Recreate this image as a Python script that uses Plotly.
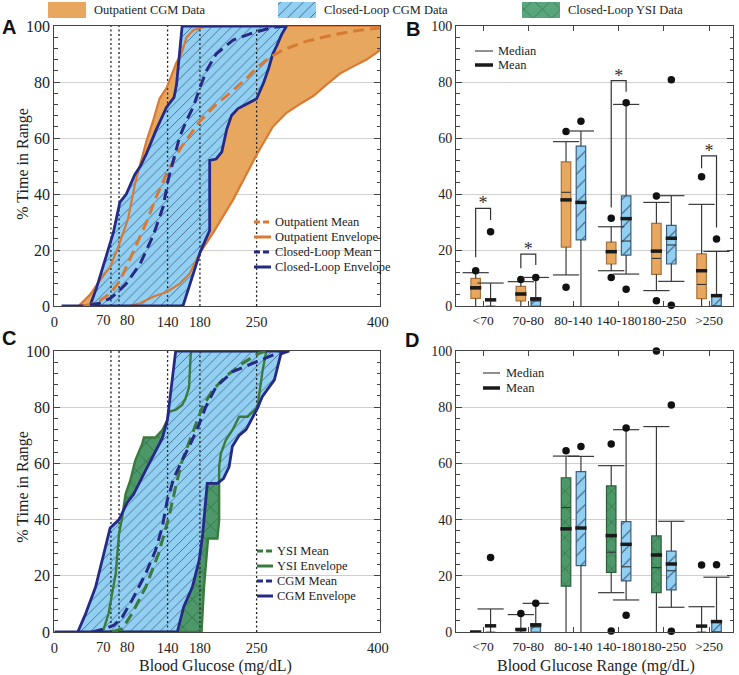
import plotly.graph_objects as go

# ---------------- Panel A : cumulative distributions ----------------
op_env_left_x = [30, 44, 56, 69, 79, 91, 100, 106.5, 114, 122, 130, 139, 151, 157, 163.5, 172, 188, 213]
op_env_left_y = [0, 4, 9, 14, 21, 31, 44, 51, 59, 66, 74, 78, 87, 90, 96, 98.6, 99.8, 100]
op_env_right_x = [93, 106, 122, 139, 155, 167.5, 180, 196, 221, 250, 258, 270, 287, 303, 320, 336, 353, 369, 386, 400, 420, 440]
op_env_right_y = [0, 1, 3.3, 5, 8, 11.7, 19, 26, 38, 54, 58, 64, 69, 72, 75, 79, 83, 85.5, 88, 91, 95, 100]
op_mean_x = [36, 52, 69, 81, 97, 114, 126, 140, 155, 172, 180, 200, 221, 240, 250, 265, 283, 311, 344, 377, 402]
op_mean_y = [0, 1, 4.5, 9, 19, 30, 39, 48, 56, 63, 66, 72, 77, 82, 85, 88.5, 91.5, 94.5, 96.8, 98.5, 99.3]

cl_env_left_x = [9, 44, 52, 58, 64.6, 72.8, 81, 89, 99.6, 106.5, 114, 126, 138.7, 148, 151, 158]
cl_env_left_y = [0, 0, 6.3, 12, 19, 26, 37, 40, 47, 50, 54.5, 63, 71, 74.5, 79, 100]
cl_env_right_x = [159, 172, 180, 192, 192, 200, 207, 213, 219, 227, 236, 250, 259, 265, 270, 275, 281, 287]
cl_env_right_y = [0, 12, 19, 27, 52, 52.5, 55, 63, 68, 70.5, 72, 74, 80, 85, 90, 93, 97, 100]
cl_mean_x = [44, 56, 69, 77, 89, 106, 122, 134.6, 140.7, 147, 155, 163, 171.6, 180, 188, 200, 221, 245.7, 270, 287]
cl_mean_y = [0.4, 1, 2.7, 4.5, 8, 15, 25, 35.5, 45, 52, 60.5, 66, 71, 78, 84, 90, 95, 97.6, 99.5, 100]

# ---------------- Panel C : YSI vs CGM (closed loop) ----------------
cgm_env_left_x = [0, 29, 38, 51, 69, 80, 90, 98, 113, 133.5, 139.7, 150, 150]
cgm_env_left_y = [0, 0, 6, 16, 37, 40, 46, 49, 57.6, 69, 75.4, 99, 100]
cgm_env_right_x = [152, 160, 170.6, 179, 183, 189, 201.6, 209, 216, 220, 228.5, 237, 251, 257, 263, 272, 280, 290.5]
cgm_env_right_y = [0, 9, 16, 25.5, 33.8, 52.9, 52.9, 54.6, 58.8, 66, 70, 72, 79.6, 83.7, 86, 89.7, 99, 100]
ysi_env_left_x = [55, 61, 67, 73.6, 76, 80, 84, 88, 94, 100, 108.7, 110.7, 125, 133.5, 139.7, 141.6, 150, 158, 162, 166.5, 168.6, 169.8]
ysi_env_left_y = [0, 1, 6.5, 17, 21, 35, 41, 49, 54, 61, 67, 69.2, 69.2, 71.9, 75.4, 78.4, 79, 80.8, 83, 87, 99, 100]
ysi_env_right_x = [182, 185, 190, 201.6, 203.7, 203.7, 205.8, 212, 220, 228.5, 238.8, 251, 257.4, 262]
ysi_env_right_y = [0, 16, 33.3, 33.3, 39.8, 58.8, 63.5, 68.3, 71.8, 76.6, 76.6, 80, 93, 100]
ysi_mean_x = [71.5, 84, 96, 113, 129, 141.7, 150, 158, 170.7, 183, 195.5, 212, 232.6, 253, 262]
ysi_mean_y = [0, 1.2, 6.5, 16, 28, 41, 51.7, 61, 70.7, 80, 86, 91, 95.6, 99.2, 100]
cgm_mean_x = [46.7, 63, 73.6, 84, 96, 113, 125, 133.5, 139.7, 148, 158, 170, 179, 187, 200, 220, 245, 261.6, 274, 278]
cgm_mean_y = [0, 1.2, 2.4, 5.3, 11.3, 20.8, 29, 37.4, 47, 55, 61, 68, 74, 80, 87.3, 92.6, 95.6, 97.7, 99, 100]

range_cutoffs = [70, 80, 140, 180, 250]
glucose_ticks = [0, 140, 180, 250, 400]          # labelled by the axis
glucose_close_ticks = [70, 80]                    # labelled beside each other (too close for the axis)

# ---------------- Panels B / D : box plots per glucose range ----------------
categories = ["<70", "70-80", "80-140", "140-180", "180-250", ">250"]

op_q1 = [2.7, 1.8, 21.0, 15.0, 11.3, 2.6]
op_q3 = [9.9, 7.0, 51.5, 22.8, 29.5, 18.6]
op_median = [6.2, 4.0, 40.6, 19.2, 17.0, 7.7]
op_mean = [6.5, 4.3, 37.9, 19.4, 19.6, 12.6]
op_cap_lo = [0, 0, 11.1, 12.6, 5.5, 0]
op_cap_hi = [11.9, 8.7, 58.7, 28.3, 37.0, 36.3]
op_out_cat = [0, 1, 2, 2, 3, 3, 4, 4, 5]
op_out_val = [12.6, 9.5, 62.3, 6.7, 31.3, 10.2, 39.3, 1.9, 46.2]

cl_q1 = [0, 0, 23.6, 18.2, 15.0, 0]
cl_q3 = [0, 3.0, 57.1, 39.3, 28.8, 3.7]
cl_median = [0, 1.8, 37.0, 23.2, 21.8, 0]
cl_mean = [2.2, 2.5, 37.0, 31.2, 24.2, 3.7]
cl_cap_lo = [0, 0, 0, 11.4, 8.8, 0]
cl_cap_hi = [8.2, 10.2, 62.5, 72.0, 39.4, 19.5]
cl_out_cat = [0, 1, 2, 3, 3, 4, 4, 5]
cl_out_val = [26.5, 10.2, 66.0, 72.6, 6.0, 80.8, 0.3, 23.9]

ysi_q1 = [0, 0, 16.3, 21.2, 14.0, 0]
ysi_q3 = [0, 0, 54.9, 52.0, 34.2, 0]
ysi_median = [0, 0, 44.3, 28.4, 22.9, 0]
ysi_mean = [0, 0.9, 36.7, 34.3, 27.4, 2.1]
ysi_cap_lo = [0, 0, 0, 14.0, 0, 0]
ysi_cap_hi = [0, 6.2, 62.6, 59.2, 73.1, 9.0]
ysi_out_cat = [1, 2, 3, 3, 4, 5]
ysi_out_val = [6.6, 64.5, 66.9, 0.4, 100, 23.8]

bracket_cat = [0, 1, 3, 5]
bracket_left_lo = [17.4, 13.5, 35.2, 49.2]
bracket_top = [34.9, 18.5, 80.5, 53.6]
bracket_right_lo = [30.7, 14.6, 76.5, 28.0]

# ---------------- styling ----------------
SERIF = "Liberation Serif"
ORANGE_FILL = "#E8A75E"
ORANGE_LINE = "#D87A33"
NAVY = "#262A86"
BLUE_FILL = "#92D0F3"
HATCH = "#36506E"
GREEN_FILL = "#4C9868"
GREEN_HATCH = "#28573A"
GREEN_LINE = "#3A7A3C"
AXIS = "#444444"
GRID = "#CFCFCF"
TXT = "#222222"

W, H = 739, 675
def px_x(p): return p / W
def px_y(p): return 1 - p / H

fig = go.Figure()

def polygon(lx, ly, rx, ry):
    xs = list(lx) + list(rx)[::-1] + [lx[0]]
    ys = list(ly) + list(ry)[::-1] + [ly[0]]
    return xs, ys

def add_fill(xs, ys, color, ax, ay, pattern=None):
    kw = dict(x=xs, y=ys, mode="lines", fill="toself", fillcolor=color,
              line=dict(width=0), hoverinfo="skip", showlegend=False, xaxis=ax, yaxis=ay)
    if pattern:
        kw["fillpattern"] = pattern
    fig.add_trace(go.Scatter(**kw))

def add_line(xs, ys, color, width, ax, ay, dash=None):
    fig.add_trace(go.Scatter(x=xs, y=ys, mode="lines", line=dict(color=color, width=width, dash=dash),
                             showlegend=False, hoverinfo="skip", xaxis=ax, yaxis=ay))

def add_cutoffs(ax, ay):
    xs, ys = [], []
    for v in range_cutoffs:
        xs += [v, v, None]; ys += [0, 100, None]
    fig.add_trace(go.Scatter(x=xs, y=ys, mode="lines", line=dict(color="#222", width=1.3, dash="2px,2.5px"),
                             showlegend=False, hoverinfo="skip", xaxis=ax, yaxis=ay))

blue_pat = dict(shape="/", size=7, solidity=0.1, fgcolor=HATCH, bgcolor=BLUE_FILL, fillmode="replace")
green_pat = dict(shape="x", size=13, solidity=0.08, fgcolor=GREEN_HATCH, bgcolor=GREEN_FILL, fillmode="replace")
DASH = "11px,6px"

# ---- Panel A ----
opx, opy = polygon(op_env_left_x, op_env_left_y, op_env_right_x, op_env_right_y)
clx, cly = polygon(cl_env_left_x, cl_env_left_y, cl_env_right_x, cl_env_right_y)
add_fill(opx, opy, ORANGE_FILL, "x", "y")
add_fill(clx, cly, BLUE_FILL, "x", "y", blue_pat)
add_cutoffs("x", "y")
add_line(opx, opy, ORANGE_LINE, 2.2, "x", "y")
add_line(clx, cly, NAVY, 2.8, "x", "y")
add_line(op_mean_x, op_mean_y, ORANGE_LINE, 3, "x", "y", DASH)
add_line(cl_mean_x, cl_mean_y, NAVY, 3, "x", "y", DASH)

# ---- Panel C ----
ysx, ysy = polygon(ysi_env_left_x, ysi_env_left_y, ysi_env_right_x, ysi_env_right_y)
cgx, cgy = polygon(cgm_env_left_x, cgm_env_left_y, cgm_env_right_x, cgm_env_right_y)
add_fill(ysx, ysy, GREEN_FILL, "x3", "y3", green_pat)
add_fill(cgx, cgy, BLUE_FILL, "x3", "y3", blue_pat)
add_cutoffs("x3", "y3")
add_line(ysx, ysy, GREEN_LINE, 2.4, "x3", "y3")
add_line(cgx, cgy, NAVY, 2.8, "x3", "y3")
add_line(ysi_mean_x, ysi_mean_y, GREEN_LINE, 3, "x3", "y3", DASH)
add_line(cgm_mean_x, cgm_mean_y, NAVY, 3, "x3", "y3", DASH)

# ---- Panels B / D ----
OFF = 0.165
BOXW = 0.21
CAPH = 0.29

def hsegs(centers, vals, half, skip_zero=False):
    xs, ys = [], []
    for c, v in zip(centers, vals):
        if skip_zero and v <= 0:
            continue
        xs += [c - half, c + half, None]; ys += [v, v, None]
    return xs, ys

def box_series(offset, q1, q3, med, mean, cap_lo, cap_hi, out_cat, out_val,
               fill, border, pattern, ax, ay, medians, means):
    pos = [i + offset for i in range(len(categories))]
    wx, wy = [], []
    for c, a, b, d, e in zip(pos, cap_lo, q1, q3, cap_hi):
        if b > a:
            wx += [c, c, None]; wy += [a, b, None]
        if e > d:
            wx += [c, c, None]; wy += [d, e, None]
    cx1, cy1 = hsegs(pos, cap_hi, CAPH, True)
    cx2, cy2 = hsegs(pos, cap_lo, CAPH, True)
    fig.add_trace(go.Scatter(x=wx + cx1 + cx2, y=wy + cy1 + cy2, mode="lines",
                             line=dict(color="#3a3a3a", width=1.2), showlegend=False,
                             hoverinfo="skip", xaxis=ax, yaxis=ay))
    fig.add_trace(go.Bar(x=pos, y=[b - a for a, b in zip(q1, q3)], base=q1, width=BOXW,
                         marker=dict(color=fill, line=dict(color=border, width=1.2), pattern=pattern),
                         showlegend=False, hoverinfo="skip", xaxis=ax, yaxis=ay))
    keep = [k for k in range(len(pos)) if q3[k] > q1[k]]
    mx, my = hsegs([pos[k] for k in keep], [med[k] for k in keep], BOXW / 2)
    medians[0] += mx; medians[1] += my
    ex, ey = hsegs(pos, mean, 0.125)
    means[0] += ex; means[1] += ey
    fig.add_trace(go.Scatter(x=[c + offset for c in out_cat], y=out_val, mode="markers", cliponaxis=False,
                             marker=dict(color="#111", size=7.5), showlegend=False,
                             hoverinfo="skip", xaxis=ax, yaxis=ay))

blue_box_pat = dict(shape="/", size=10, solidity=0.1, fgcolor=HATCH, bgcolor=BLUE_FILL, fillmode="replace")
green_box_pat = dict(shape="x", size=11, solidity=0.08, fgcolor=GREEN_HATCH, bgcolor=GREEN_FILL, fillmode="replace")

for ax, ay, left in [("x2", "y2", "op"), ("x4", "y4", "ysi")]:
    medians, means = [[], []], [[], []]
    if left == "op":
        box_series(-OFF, op_q1, op_q3, op_median, op_mean, op_cap_lo, op_cap_hi, op_out_cat, op_out_val,
                   ORANGE_FILL, "#A8733C", None, ax, ay, medians, means)
    else:
        box_series(-OFF, ysi_q1, ysi_q3, ysi_median, ysi_mean, ysi_cap_lo, ysi_cap_hi, ysi_out_cat,
                   ysi_out_val, GREEN_FILL, "#2E5F40", green_box_pat, ax, ay, medians, means)
    box_series(OFF, cl_q1, cl_q3, cl_median, cl_mean, cl_cap_lo, cl_cap_hi, cl_out_cat, cl_out_val,
               BLUE_FILL, "#3C5D7C", blue_box_pat, ax, ay, medians, means)
    fig.add_trace(go.Scatter(x=medians[0], y=medians[1], mode="lines", line=dict(color="#333", width=1.1),
                             showlegend=False, hoverinfo="skip", xaxis=ax, yaxis=ay))
    fig.add_trace(go.Scatter(x=means[0], y=means[1], mode="lines", line=dict(color="#1a1a1a", width=3.5),
                             showlegend=False, hoverinfo="skip", xaxis=ax, yaxis=ay))

bx, by = [], []
for c, a, t, b in zip(bracket_cat, bracket_left_lo, bracket_top, bracket_right_lo):
    bx += [c - OFF, c - OFF, c + OFF, c + OFF, None]
    by += [a, t, t, b, None]
fig.add_trace(go.Scatter(x=bx, y=by, mode="lines", line=dict(color="#333", width=1.2),
                         showlegend=False, hoverinfo="skip", xaxis="x2", yaxis="y2"))
fig.add_trace(go.Scatter(x=bracket_cat, y=[t + 1.2 for t in bracket_top], mode="text",
                         text=["*"] * len(bracket_cat), textfont=dict(family=SERIF, size=18, color="#333"),
                         showlegend=False, hoverinfo="skip", xaxis="x2", yaxis="y2", cliponaxis=False))

# ---- legends drawn on a hidden full-figure helper axis (pixel units) ----
def legend_text(x, y, label, size=12.5):
    fig.add_annotation(x=x, y=y, xref="x5", yref="y5", text=label, showarrow=False,
                       xanchor="left", yanchor="middle", font=dict(family=SERIF, size=size, color=TXT))

def legend_line(x0, x1, y, color, width, dash=None):
    fig.add_trace(go.Scatter(x=[x0, x1], y=[y, y], mode="lines", line=dict(color=color, width=width, dash=dash),
                             showlegend=False, hoverinfo="skip", xaxis="x5", yaxis="y5"))

swatches = [(48, ORANGE_FILL, None, "Outpatient CGM Data"),
            (278, BLUE_FILL, dict(shape="/", size=8, solidity=0.1, fgcolor=HATCH, bgcolor=BLUE_FILL, fillmode="replace"),
             "Closed-Loop CGM Data"),
            (522, GREEN_FILL, dict(shape="x", size=13, solidity=0.08, fgcolor=GREEN_HATCH, bgcolor="#5AA67C", fillmode="replace"),
             "Closed-Loop YSI Data")]
for x0, col, pat, label in swatches:
    add_fill([x0, x0 + 38, x0 + 38, x0, x0], [2, 2, 18, 18, 2], col, "x5", "y5", pat)
    legend_text(x0 + 44, 10, label, 12.5)

LEG_DASH = "6px,3px"
for (lab, col, dash), yy in zip([("Outpatient Mean", ORANGE_LINE, LEG_DASH), ("Outpatient Envelope", ORANGE_LINE, None),
                                 ("Closed-Loop Mean", NAVY, LEG_DASH), ("Closed-Loop Envelope", NAVY, None)],
                                [222, 237, 252, 267]):
    legend_line(254, 271, yy, col, 3, dash)
    legend_text(273, yy, lab)
for (lab, col, dash), yy in zip([("YSI Mean", GREEN_LINE, LEG_DASH), ("YSI Envelope", GREEN_LINE, None),
                                 ("CGM Mean", NAVY, LEG_DASH), ("CGM Envelope", NAVY, None)],
                                [551, 566, 581, 596]):
    legend_line(257, 273, yy, col, 3, dash)
    legend_text(275, yy, lab)
for x0, x1, xt, rows in [(475, 493, 496, [51, 65]), (483, 500, 504, [373, 388])]:
    legend_line(x0, x1, rows[0], "#333", 1.1)
    legend_text(xt, rows[0], "Median")
    legend_line(x0, x1, rows[1], "#1a1a1a", 3.5)
    legend_text(xt, rows[1], "Mean")

# ---- axes ----
xd_left = [px_x(54.3), px_x(380)]
xd_right = [px_x(456), px_x(733)]
yd_top = [px_y(306), px_y(26)]
yd_bot = [px_y(632), px_y(351)]

def yax(domain, anchor, size):
    return dict(domain=domain, anchor=anchor, range=[0, 100], dtick=20, tick0=0, automargin=False,
                showline=True, linecolor=AXIS, linewidth=1, mirror="ticks",
                ticks="inside", ticklen=6, tickcolor=AXIS, tickwidth=1,
                showgrid=True, gridcolor=GRID, gridwidth=1, zeroline=False,
                tickfont=dict(family=SERIF, size=size, color=TXT),
                minor=dict(dtick=4, ticks="inside", ticklen=3.5, tickcolor=AXIS, showgrid=False))

def xglu(domain, anchor):
    return dict(domain=domain, anchor=anchor, range=[0, 402.5], tickmode="array", tickvals=glucose_ticks,
                ticktext=[str(v) for v in glucose_ticks], showline=True, linecolor=AXIS, mirror=True,
                automargin=False, ticks="", showgrid=False, zeroline=False, tickangle=0, ticklabelstandoff=3,
                tickfont=dict(family=SERIF, size=14.5, color=TXT))

def xcat(domain, anchor):
    return dict(domain=domain, anchor=anchor, range=[-0.6, 5.53], tickmode="array", automargin=False,
                tickvals=list(range(len(categories))), ticktext=categories, tickangle=0,
                showline=True, linecolor=AXIS, mirror="ticks", ticks="inside", ticklen=5, tickcolor=AXIS,
                ticklabelstandoff=2,
                showgrid=False, zeroline=False, tickfont=dict(family=SERIF, size=13.5, color=TXT))

fig.update_layout(
    width=W, height=H, margin=dict(l=0, r=0, t=0, b=0, autoexpand=False),
    paper_bgcolor="white", plot_bgcolor="rgba(0,0,0,0)", barmode="overlay", showlegend=False,
    xaxis=xglu(xd_left, "y"), yaxis=yax(yd_top, "x", 16),
    xaxis2=xcat(xd_right, "y2"), yaxis2=yax(yd_top, "x2", 14),
    xaxis3=xglu(xd_left, "y3"), yaxis3=yax(yd_bot, "x3", 16),
    xaxis4=xcat(xd_right, "y4"), yaxis4=yax(yd_bot, "x4", 14),
    xaxis5=dict(domain=[0, 1], range=[0, W], visible=False, anchor="y5", automargin=False),
    yaxis5=dict(domain=[0, 1], range=[H, 0], visible=False, anchor="x5", automargin=False),
)

# the 70 / 80 labels sit beside each other under their cut-off lines
for ax_name, label_y in [("x", 320), ("x3", 646.5)]:
    for v, anchor, shift in zip(glucose_close_ticks, ["right", "left"], [2, -1]):
        fig.add_annotation(x=v, y=px_y(label_y), xref=ax_name, yref="paper", text=str(v), showarrow=False,
                           xanchor=anchor, yanchor="middle", xshift=shift,
                           font=dict(family=SERIF, size=14.5, color=TXT))

ann_font = dict(family=SERIF, size=16, color=TXT)
def paper_text(x, y, text, font, angle=0):
    fig.add_annotation(x=px_x(x), y=px_y(y), xref="paper", yref="paper", text=text, textangle=angle,
                       showarrow=False, font=font, xanchor="center", yanchor="middle")

paper_text(22.7, 164, "% Time in Range", ann_font, -90)
paper_text(22.7, 487, "% Time in Range", ann_font, -90)
paper_text(215, 665.5, "Blood Glucose (mg/dL)", ann_font)
paper_text(596, 665.5, "Blood Glucose Range (mg/dL)", ann_font)
for letter, lx, ly in [("A", 8.5, 27), ("B", 412.5, 28.5), ("C", 8.5, 338), ("D", 412, 340)]:
    paper_text(lx, ly, "<b>%s</b>" % letter, dict(family="Liberation Sans", size=20, color="#111"))

fig.write_html("out.html", config={"displayModeBar": False},
               post_script="document.body.style.margin='0px';document.body.style.padding='0px';")
